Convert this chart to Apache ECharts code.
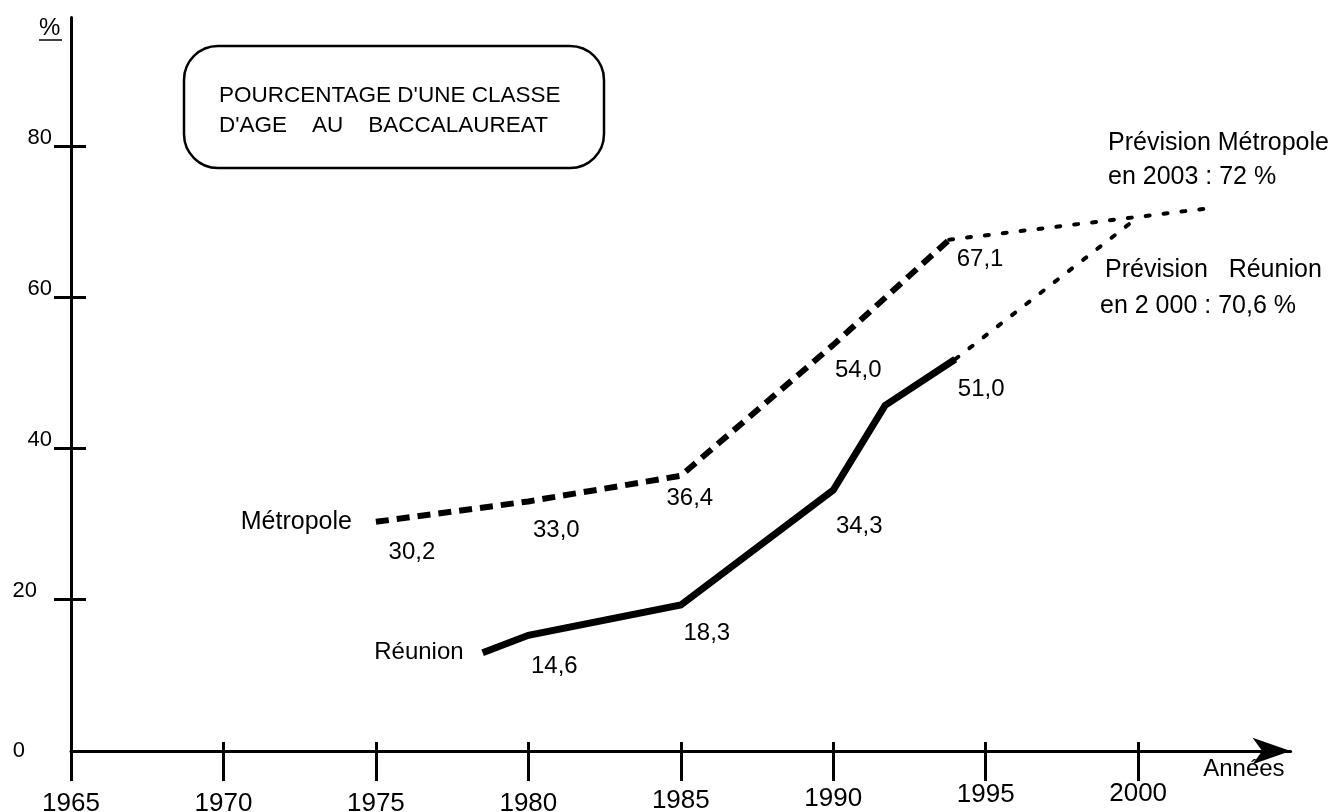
<!DOCTYPE html>
<html>
<head>
<meta charset="utf-8">
<script src="https://cdn.jsdelivr.net/npm/echarts@6/dist/echarts.min.js"></script>
<style>
  html, body { margin: 0; padding: 0; background: #fff; }
  #chart { width: 1334px; height: 812px; }
</style>
</head>
<body>
<div id="chart"></div>
<script>
// données
const yearTicks = [1965, 1970, 1975, 1980, 1985, 1990, 1995, 2000];
const pctTicks = [20, 40, 60, 80];
const pctLabels = [0, 20, 40, 60, 80];

const metYears = [1975, 1980, 1985, 1990, 1993.8];
const metValues = [30.3, 33.0, 36.4, 53.7, 67.6];
const metLabels = ['30,2', '33,0', '36,4', '54,0', '67,1'];
const metForecastYears = [1993.8, 2002.4];
const metForecastValues = [67.6, 71.8];

const reuYears = [1978.5, 1980, 1985, 1990, 1991.7, 1994];
const reuValues = [13.0, 15.3, 19.3, 34.5, 45.7, 51.8];
const reuLabels = ['', '14,6', '18,3', '34,3', '', '51,0'];
const reuForecastYears = [1994, 2000];
const reuForecastValues = [51.8, 70.6];

// décalage des étiquettes par rapport au point (px)
const metLabelOffsets = [[36, 31], [28, 29], [9, 23], [25, 26], [31, 20]];
const reuLabelOffsets = [null, [26, 31], [26, 28], [26, 36], null, [26, 30]];
// les années de droite sont un peu plus hautes sur l'original (scan penché)
const yearLift = { 1985: 3, 1990: 5, 1995: 9, 2000: 10 };

const FONT = '"Liberation Sans", Arial, Helvetica, sans-serif';

const chart = echarts.init(document.getElementById('chart'));

function points(years, values, labels, offsets) {
  return years.map((y, i) => {
    const item = { value: [y, values[i]] };
    if (labels) {
      item.label = labels[i]
        ? { show: true, offset: offsets[i], formatter: labels[i] }
        : { show: false };
    }
    return item;
  });
}

const dataLabel = {
  show: true,
  position: 'inside',
  color: '#000',
  fontFamily: FONT,
  fontSize: 24
};

const yearRich = {};
for (let lift = 0; lift <= 10; lift++) {
  yearRich['l' + lift] = { fontFamily: FONT, fontSize: 26, color: '#000', padding: [10 - lift, 0, 0, 0] };
}

const option = {
  backgroundColor: '#fff',
  animation: false,
  grid: { left: 71, right: 43.4, top: 17.4, bottom: 61, outerBoundsMode: 'none' },
  xAxis: [
    {
      type: 'value',
      position: 'bottom',
      min: 1965,
      max: 2005,
      interval: 5,
      splitLine: { show: false },
      axisLine: {
        show: true,
        lineStyle: { color: '#000', width: 3 },
        symbol: ['none', 'arrow'],
        symbolSize: [20, 38]
      },
      axisTick: {
        show: true,
        length: 30,
        customValues: yearTicks,
        lineStyle: { color: '#000', width: 3 }
      },
      axisLabel: {
        customValues: yearTicks,
        margin: 30,
        verticalAlign: 'top',
        formatter: v => '{l' + (yearLift[v] || 0) + '|' + v + '}',
        rich: yearRich
      },
      name: 'Années',
      nameLocation: 'end',
      nameGap: -6,
      nameTextStyle: {
        color: '#000',
        fontFamily: FONT,
        fontSize: 24,
        align: 'right',
        verticalAlign: 'top',
        padding: [6, 0, 0, 0]
      }
    },
    {
      type: 'value',
      position: 'bottom',
      min: 1965,
      max: 2005,
      interval: 5,
      splitLine: { show: false },
      axisLine: { show: false },
      axisTick: {
        show: true,
        inside: true,
        length: 9,
        customValues: yearTicks,
        lineStyle: { color: '#000', width: 3 }
      },
      axisLabel: { show: false }
    }
  ],
  yAxis: [
    {
      type: 'value',
      min: 0,
      max: 97,
      interval: 20,
      splitLine: { show: false },
      axisLine: { show: true, lineStyle: { color: '#000', width: 3 } },
      axisTick: {
        show: true,
        length: 17,
        customValues: pctTicks,
        lineStyle: { color: '#000', width: 3 }
      },
      axisLabel: {
        customValues: pctLabels,
        margin: 19,
        verticalAlign: 'middle',
        formatter: v => v === 0 ? '{z|0}' : v === 20 ? '{t|20}' : '{n|' + v + '}',
        rich: {
          n: { fontFamily: FONT, fontSize: 22, color: '#000', padding: [0, 0, 17, 0] },
          t: { fontFamily: FONT, fontSize: 22, color: '#000', padding: [0, 15, 17, 0] },
          z: { fontFamily: FONT, fontSize: 22, color: '#000', padding: [0, 27, 0, 0] }
        }
      }
    },
    {
      type: 'value',
      min: 0,
      max: 97,
      interval: 20,
      position: 'left',
      splitLine: { show: false },
      axisLine: { show: false },
      axisTick: {
        show: true,
        inside: true,
        length: 15,
        customValues: pctTicks,
        lineStyle: { color: '#000', width: 3 }
      },
      axisLabel: { show: false }
    }
  ],
  series: [
    {
      name: 'Métropole',
      type: 'line',
      symbol: 'circle',
      symbolSize: 0,
      showSymbol: true,
      data: points(metYears, metValues, metLabels, metLabelOffsets),
      lineStyle: { color: '#000', width: 6, type: [13, 8] },
      label: dataLabel,
      markPoint: {
        symbolSize: 0,
        data: [{
          coord: [metYears[0], metValues[0]],
          label: {
            show: true, position: 'left', distance: 24, formatter: 'Métropole',
            color: '#000', fontFamily: FONT, fontSize: 25
          }
        }]
      }
    },
    {
      name: 'Réunion',
      type: 'line',
      symbol: 'circle',
      symbolSize: 0,
      showSymbol: true,
      data: points(reuYears, reuValues, reuLabels, reuLabelOffsets),
      lineStyle: { color: '#000', width: 7, cap: 'butt', join: 'miter' },
      label: dataLabel,
      markPoint: {
        symbolSize: 0,
        data: [{
          coord: [reuYears[0], reuValues[0]],
          label: {
            show: true, position: 'left', distance: 19, formatter: 'Réunion',
            color: '#000', fontFamily: FONT, fontSize: 24
          }
        }]
      }
    },
    {
      name: 'Prévision Métropole',
      type: 'line',
      symbol: 'none',
      data: points(metForecastYears, metForecastValues),
      lineStyle: { color: '#000', width: 4, type: [4, 14], cap: 'round' }
    },
    {
      name: 'Prévision Réunion',
      type: 'line',
      symbol: 'none',
      data: points(reuForecastYears, reuForecastValues),
      lineStyle: { color: '#000', width: 4, type: [4, 14], cap: 'round' }
    }
  ],
  graphic: [
    {
      type: 'rect',
      shape: { x: 184, y: 46, width: 420, height: 122, r: 34 },
      style: { fill: '#fff', stroke: '#000', lineWidth: 2.5 }
    },
    {
      type: 'text', left: 219, top: 84,
      style: { text: "POURCENTAGE D'UNE CLASSE", font: '22.5px ' + FONT, fill: '#000' }
    },
    {
      type: 'text', left: 219, top: 114,
      style: { text: "D'AGE    AU    BACCALAUREAT", font: '22.5px ' + FONT, fill: '#000' }
    },
    {
      type: 'text', left: 39, top: 16,
      style: { text: '%', font: '24px ' + FONT, fill: '#000' }
    },
    {
      type: 'line',
      shape: { x1: 39, y1: 40, x2: 62, y2: 40 },
      style: { stroke: '#000', lineWidth: 1.5 }
    },
    {
      type: 'text', left: 1108, top: 131,
      style: { text: 'Prévision Métropole', font: '25px ' + FONT, fill: '#000' }
    },
    {
      type: 'text', left: 1108, top: 165,
      style: { text: 'en 2003 : 72 %', font: '25px ' + FONT, fill: '#000' }
    },
    {
      type: 'text', left: 1105, top: 258,
      style: { text: 'Prévision   Réunion', font: '25px ' + FONT, fill: '#000' }
    },
    {
      type: 'text', left: 1100, top: 294,
      style: { text: 'en 2 000 : 70,6 %', font: '25px ' + FONT, fill: '#000' }
    }
  ]
};

chart.setOption(option);
</script>
</body>
</html>
